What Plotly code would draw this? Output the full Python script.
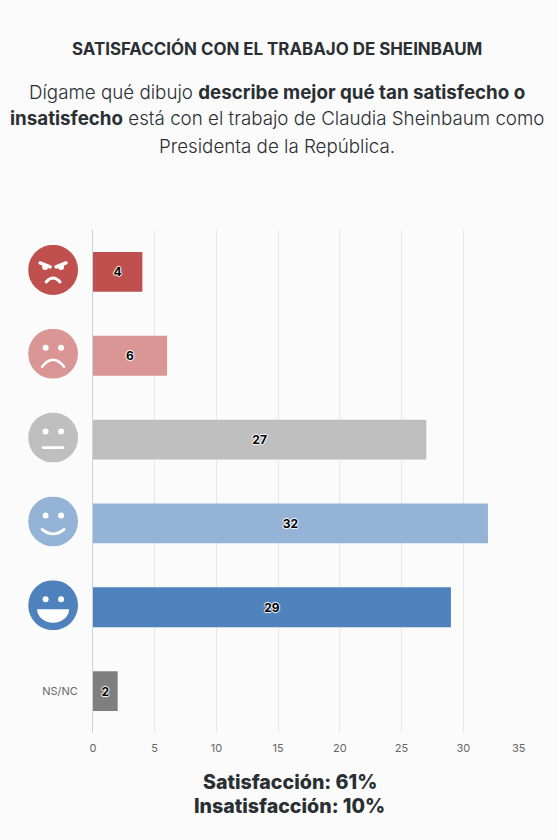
import base64
import plotly.graph_objects as go

categories = ["Muy insatisfecho", "Algo insatisfecho", "Ni uno ni otro", "Algo satisfecho", "Muy satisfecho", "NS/NC"]
values = [4, 6, 27, 32, 29, 2]
colors = ["#c0504d", "#d99694", "#bfbfbf", "#95b3d7", "#4f81bd", "#7f7f7f"]
tick_labels = ["", "", "", "", "", "NS/NC"]
x_ticks = [0, 5, 10, 15, 20, 25, 30, 35]
x_tick_labels = ["0", "5", "10", "15", "20", "25", "30", "35\u00a0\u00a0\u00a0\u00a0"]
title = "SATISFACCIÓN CON EL TRABAJO DE SHEINBAUM"
subtitle_lines = [
    "Dígame qué dibujo <b>describe mejor qué tan satisfecho o</b>",
    "<b>insatisfecho</b> está con el trabajo de Claudia Sheinbaum como",
    "Presidenta de la República.",
]
summary_lines = ["Satisfacción: 61%", "Insatisfacción: 10%"]

BG = "#fbfbfb"
FONT = "Inter"
W, H = 558, 840
L, R, T, B = 92.5, 32.5, 230, 107


def face(fill, inner):
    svg = (f'<svg xmlns="http://www.w3.org/2000/svg" viewBox="0 0 50 50">'
           f'<circle cx="25" cy="25" r="25" fill="{fill}"/>{inner}</svg>')
    return "data:image/svg+xml;base64," + base64.b64encode(svg.encode()).decode()


EYES = '<circle cx="17.5" cy="19" r="3" fill="#fff"/><circle cx="33" cy="19" r="3" fill="#fff"/>'
stroke = 'fill="none" stroke="#fff" stroke-linecap="round"'
faces = [
    face(colors[0],
         '<path d="M12 18 L22 22 M38 18 L28 22" stroke="#fff" stroke-width="3.4" stroke-linecap="round"/>'
         '<circle cx="17" cy="22" r="3" fill="#fff"/><circle cx="33" cy="22" r="3" fill="#fff"/>'
         f'<path d="M18 37 Q25 29 32 37" {stroke} stroke-width="3"/>'),
    face(colors[1], EYES + f'<path d="M14 38 Q25 24 36 38" {stroke} stroke-width="2.5"/>'),
    face(colors[2], EYES + '<path d="M15 35 H35" stroke="#fff" stroke-width="2.6" stroke-linecap="round"/>'),
    face(colors[3], EYES + f'<path d="M14 33 Q25 42 36 33" {stroke} stroke-width="2.8"/>'),
    face(colors[4], EYES + '<path d="M9 29 H41 A16 13.5 0 0 1 9 29 Z" fill="#fff"/>'),
]

fig = go.Figure(go.Bar(
    y=categories, x=values, orientation="h",
    marker=dict(color=colors, line_width=0),
    text=[str(v) for v in values], textposition="inside", insidetextanchor="middle",
    textangle=0, constraintext="none",
    textfont=dict(family=FONT, size=12, color="#000", weight="bold",
                  shadow="1px 0 1px #fff, -1px 0 1px #fff, 0 1px 1px #fff, 0 -1px 1px #fff"),
    hoverinfo="skip",
))

plot_w = W - L - R
for i, src in enumerate(faces):
    fig.add_layout_image(source=src, xref="paper", yref="y", x=(52.5 - L) / plot_w, y=i - 0.024,
                         sizex=50 / plot_w, sizey=0.597, xanchor="center", yanchor="middle",
                         sizing="stretch", layer="above")


def note(text, py, size, cx=277, weight=400, color="#2a2f33"):
    fig.add_annotation(text=text, xref="paper", yref="paper", x=(cx - L) / plot_w,
                       y=1 - (py - T) / (H - T - B), xanchor="center", yanchor="middle",
                       showarrow=False, font=dict(family=FONT, size=size, color=color, weight=weight))


note(title, 48, 16.9, weight=700)
for i, line in enumerate(subtitle_lines):
    note(line, 92 + 27 * i, 18.75, weight=300)
for i, line in enumerate(summary_lines):
    note(line, 782 + 24 * i, 19.6, cx=289.5, weight=800)

fig.update_layout(
    width=W, height=H, autosize=False, paper_bgcolor=BG, plot_bgcolor=BG,
    margin=dict(l=L, r=R, t=T, b=B, pad=0, autoexpand=False),
    bargap=0.524, showlegend=False, font=dict(family=FONT),
    xaxis=dict(range=[0, 35], tickmode="array", tickvals=x_ticks, ticktext=x_tick_labels,
               showgrid=True, gridcolor="#e8e8e8", gridwidth=1,
               zeroline=False, showline=False, ticks="", ticklabelstandoff=7,
               tickfont=dict(family=FONT, size=11, color="#666")),
    yaxis=dict(categoryorder="array", categoryarray=categories, autorange="reversed",
               tickmode="array", tickvals=categories, ticktext=tick_labels,
               showgrid=False, zeroline=False, showline=True, linecolor="#c5d3e6", linewidth=1,
               ticks="", ticklabelstandoff=12,
               tickfont=dict(family=FONT, size=11, color="#666")),
)
fig.write_html("out.html", config={"displayModeBar": False},
               post_script="document.body.style.margin='0';document.body.style.background='" + BG + "';")
